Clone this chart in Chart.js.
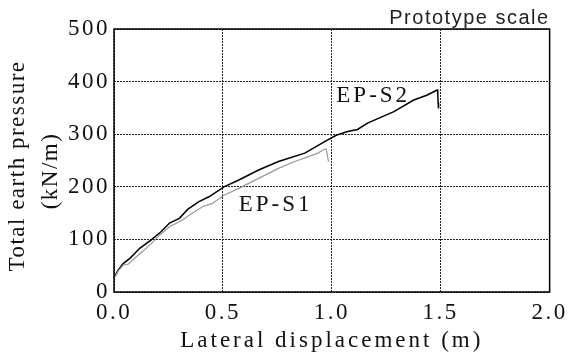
<!DOCTYPE html>
<html lang="en">
<head>
    <meta charset="UTF-8">
    <title>Total earth pressure vs lateral displacement</title>
    <script src="https://cdn.jsdelivr.net/npm/chart.js"></script>
    <style>
        html, body { margin: 0; padding: 0; background: #fff; }
        canvas { display: block; }
    </style>
</head>
<body>
    <canvas id="myChart" width="571" height="352"></canvas>

    <script>
        // EP-S1 (grey curve)
        const s1X = [0, 0.02, 0.042, 0.065, 0.103, 0.164, 0.209, 0.255, 0.315, 0.345, 0.406, 0.45, 0.505, 0.573, 0.664, 0.755, 0.83, 0.89, 0.936, 0.964, 0.974, 0.985];
        const s1Y = [26, 40, 51, 53, 67, 89, 108, 124, 137, 146, 162, 168, 184, 197, 216, 235, 248, 257, 264, 271, 272, 248];
        // EP-S2 (black curve)
        const s2X = [0, 0.02, 0.042, 0.073, 0.118, 0.171, 0.217, 0.255, 0.30, 0.338, 0.39, 0.436, 0.505, 0.573, 0.664, 0.755, 0.876, 0.967, 1.02, 1.073, 1.118, 1.164, 1.285, 1.376, 1.436, 1.479, 1.486, 1.488, 1.49];
        const s2Y = [28, 42, 54, 64, 83, 99, 115, 131, 140, 157, 172, 181, 200, 213, 232, 248, 264, 286, 298, 305, 309, 321, 343, 365, 374, 383, 384, 360, 349];

        const xTicks = [0, 0.5, 1.0, 1.5, 2.0];
        const yTicks = [0, 100, 200, 300, 400, 500];

        const serif = '"Liberation Serif", "Times New Roman", serif';
        const toPts = (xs, ys) => xs.map((x, i) => ({ x: x, y: ys[i] }));

        // the original figure is stretched sideways, so text gets some letter spacing
        const spacing = {
            id: 'spacing',
            beforeDraw(chart) { chart.ctx.letterSpacing = '2.5px'; }
        };

        // frame, axis titles, curve labels and the corner note
        const extras = {
            id: 'extras',
            afterDraw(chart) {
                const { ctx, chartArea: a, scales } = chart;
                ctx.save();
                ctx.letterSpacing = '0px';
                ctx.strokeStyle = '#000';
                ctx.lineWidth = 1.5;
                ctx.strokeRect(a.left, a.top, a.right - a.left, a.bottom - a.top);

                ctx.fillStyle = '#111';
                ctx.textAlign = 'center';
                ctx.textBaseline = 'middle';

                // curve labels
                ctx.font = '23px ' + serif;
                ctx.letterSpacing = '3px';
                ctx.fillText('EP-S2', scales.x.getPixelForValue(1.19), scales.y.getPixelForValue(373));
                ctx.fillText('EP-S1', scales.x.getPixelForValue(0.742), scales.y.getPixelForValue(166));

                // x title
                ctx.letterSpacing = '3px';
                ctx.textBaseline = 'alphabetic';
                ctx.fillText('Lateral displacement (m)', (a.left + a.right) / 2, 347);

                // y title, two lines
                ctx.letterSpacing = '1.5px';
                ctx.textBaseline = 'middle';
                ctx.save();
                ctx.translate(18, 166);
                ctx.rotate(-Math.PI / 2);
                ctx.fillText('Total earth pressure', 0, 0);
                ctx.restore();
                ctx.save();
                ctx.translate(51, 171);
                ctx.rotate(-Math.PI / 2);
                ctx.fillText('(kN/m)', 0, 0);
                ctx.restore();

                ctx.font = '20px "Liberation Sans", Arial, sans-serif';
                ctx.letterSpacing = '1.5px';
                ctx.fillStyle = '#222';
                ctx.textAlign = 'right';
                ctx.textBaseline = 'alphabetic';
                ctx.fillText('Prototype scale', a.right, 24);
                ctx.restore();
            }
        };

        const ctx = document.getElementById('myChart').getContext('2d');
        const myChart = new Chart(ctx, {
            type: 'scatter',
            data: {
                datasets: [{
                    label: 'EP-S1',
                    data: toPts(s1X, s1Y),
                    showLine: true,
                    borderColor: '#999',
                    borderWidth: 1.2,
                    pointRadius: 0
                }, {
                    label: 'EP-S2',
                    data: toPts(s2X, s2Y),
                    showLine: true,
                    borderColor: '#000',
                    borderWidth: 1.5,
                    pointRadius: 0
                }]
            },
            options: {
                responsive: false,
                animation: false,
                devicePixelRatio: 1,
                layout: { padding: { top: 29, right: 17, left: 0, bottom: 0 } },
                plugins: { legend: { display: false }, tooltip: { enabled: false } },
                scales: {
                    x: {
                        type: 'linear',
                        min: 0, max: 2,
                        afterBuildTicks: s => { s.ticks = xTicks.map(v => ({ value: v })); },
                        afterFit: s => { s.height = 60; },
                        grid: { color: '#222', lineWidth: 1, drawTicks: false },
                        border: { display: false, dash: [2, 1] },
                        ticks: {
                            color: '#111',
                            font: { family: serif, size: 23 },
                            padding: 7,
                            maxRotation: 0,
                            callback: v => v.toFixed(1)
                        }
                    },
                    y: {
                        type: 'linear',
                        min: 0, max: 500,
                        afterBuildTicks: s => { s.ticks = yTicks.map(v => ({ value: v })); },
                        afterFit: s => { s.width = 114; },
                        grid: { color: '#222', lineWidth: 1, drawTicks: false },
                        border: { display: false, dash: [2, 1] },
                        ticks: {
                            color: '#111',
                            font: { family: serif, size: 23 },
                            padding: 4
                        }
                    }
                }
            },
            plugins: [spacing, extras]
        });
    </script>
</body>
</html>
